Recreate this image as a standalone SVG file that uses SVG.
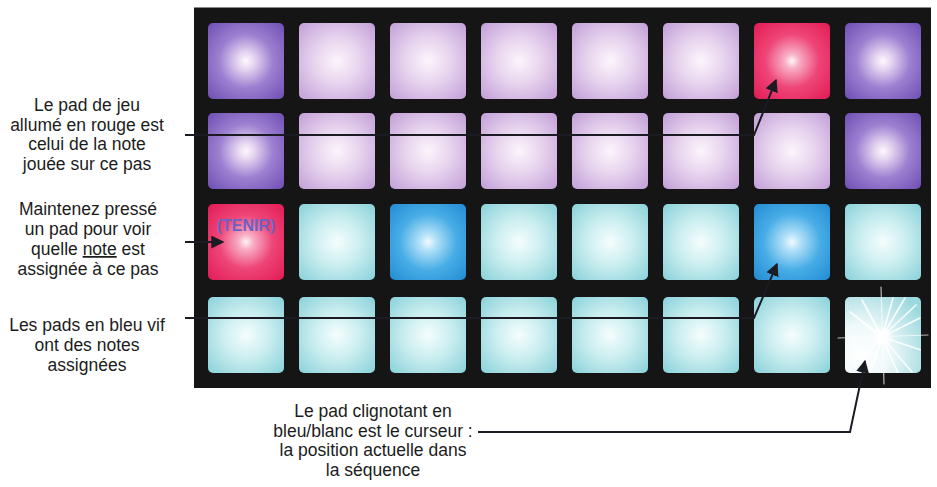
<svg xmlns="http://www.w3.org/2000/svg" width="937" height="487" viewBox="0 0 937 487">
<style>
.lbl{font-family:"Liberation Sans",Arial,Helvetica,sans-serif;font-size:17.5px;fill:#1c1c1c;text-anchor:middle}
.pad{stroke:none}
.conn{fill:none;stroke:#1b1b24;stroke-width:2}
.ray{stroke:#ffffff;stroke-linecap:round}
</style>
<defs>
<radialGradient id="gPurple" cx="50%" cy="50%" r="68%">
<stop offset="0" stop-color="#fdf8fd"/>
<stop offset="0.16" stop-color="#e6d6f1"/>
<stop offset="0.52" stop-color="#9d80d1"/>
<stop offset="1" stop-color="#7152b6"/>
</radialGradient>
<radialGradient id="gLilac" cx="50%" cy="50%" r="68%">
<stop offset="0" stop-color="#fcf5fb"/>
<stop offset="0.45" stop-color="#e7d3ee"/>
<stop offset="1" stop-color="#c4a2d9"/>
</radialGradient>
<radialGradient id="gRed" cx="50%" cy="50%" r="68%">
<stop offset="0" stop-color="#fff4f7"/>
<stop offset="0.15" stop-color="#f8acc4"/>
<stop offset="0.52" stop-color="#ee4577"/>
<stop offset="1" stop-color="#e31e57"/>
</radialGradient>
<radialGradient id="gCyan" cx="50%" cy="50%" r="68%">
<stop offset="0" stop-color="#f5fdfd"/>
<stop offset="0.45" stop-color="#cbeef0"/>
<stop offset="1" stop-color="#8dd3db"/>
</radialGradient>
<radialGradient id="gBlue" cx="50%" cy="50%" r="68%">
<stop offset="0" stop-color="#f3fbff"/>
<stop offset="0.16" stop-color="#b3e1f8"/>
<stop offset="0.55" stop-color="#48ade6"/>
<stop offset="1" stop-color="#258ed5"/>
</radialGradient>
<radialGradient id="gFlash" cx="20%" cy="75%" r="95%">
<stop offset="0" stop-color="#ffffff"/>
<stop offset="0.4" stop-color="#f0f9fa"/>
<stop offset="1" stop-color="#9cd9df"/>
</radialGradient>
<radialGradient id="gGlow" cx="50%" cy="50%" r="50%">
<stop offset="0" stop-color="#ffffff" stop-opacity="1"/>
<stop offset="0.4" stop-color="#ffffff" stop-opacity="0.8"/>
<stop offset="1" stop-color="#ffffff" stop-opacity="0"/>
</radialGradient>
<clipPath id="flashClip"><rect x="845" y="297" width="76" height="76" rx="5"/></clipPath>
<marker id="ah" viewBox="0 0 10 10" refX="9" refY="5" markerWidth="6.5" markerHeight="6.5" markerUnits="strokeWidth" orient="auto">
<path d="M0,0 L10,5 L0,10 Z" fill="#1b1b24"/>
</marker>
</defs>

<rect width="937" height="487" fill="#ffffff"/>

<g id="panel">
<rect x="194" y="7" width="737" height="381" fill="#151515"/>
<line x1="194" y1="7.5" x2="931" y2="7.5" stroke="#8a8a8a" stroke-width="1"/>
</g>

<g id="pads">
<g id="row1">
<rect class="pad" x="208" y="23" width="76" height="76" rx="5" fill="url(#gPurple)"/>
<rect class="pad" x="299" y="23" width="76" height="76" rx="5" fill="url(#gLilac)"/>
<rect class="pad" x="390" y="23" width="76" height="76" rx="5" fill="url(#gLilac)"/>
<rect class="pad" x="481" y="23" width="76" height="76" rx="5" fill="url(#gLilac)"/>
<rect class="pad" x="572" y="23" width="76" height="76" rx="5" fill="url(#gLilac)"/>
<rect class="pad" x="663" y="23" width="76" height="76" rx="5" fill="url(#gLilac)"/>
<rect class="pad" x="754" y="23" width="76" height="76" rx="5" fill="url(#gRed)"/>
<rect class="pad" x="845" y="23" width="76" height="76" rx="5" fill="url(#gPurple)"/>
</g>
<g id="row2">
<rect class="pad" x="208" y="113" width="76" height="76" rx="5" fill="url(#gPurple)"/>
<rect class="pad" x="299" y="113" width="76" height="76" rx="5" fill="url(#gLilac)"/>
<rect class="pad" x="390" y="113" width="76" height="76" rx="5" fill="url(#gLilac)"/>
<rect class="pad" x="481" y="113" width="76" height="76" rx="5" fill="url(#gLilac)"/>
<rect class="pad" x="572" y="113" width="76" height="76" rx="5" fill="url(#gLilac)"/>
<rect class="pad" x="663" y="113" width="76" height="76" rx="5" fill="url(#gLilac)"/>
<rect class="pad" x="754" y="113" width="76" height="76" rx="5" fill="url(#gLilac)"/>
<rect class="pad" x="845" y="113" width="76" height="76" rx="5" fill="url(#gPurple)"/>
</g>
<g id="row3">
<rect class="pad" x="208" y="204" width="76" height="76" rx="5" fill="url(#gRed)"/>
<rect class="pad" x="299" y="204" width="76" height="76" rx="5" fill="url(#gCyan)"/>
<rect class="pad" x="390" y="204" width="76" height="76" rx="5" fill="url(#gBlue)"/>
<rect class="pad" x="481" y="204" width="76" height="76" rx="5" fill="url(#gCyan)"/>
<rect class="pad" x="572" y="204" width="76" height="76" rx="5" fill="url(#gCyan)"/>
<rect class="pad" x="663" y="204" width="76" height="76" rx="5" fill="url(#gCyan)"/>
<rect class="pad" x="754" y="204" width="76" height="76" rx="5" fill="url(#gBlue)"/>
<rect class="pad" x="845" y="204" width="76" height="76" rx="5" fill="url(#gCyan)"/>
<text x="246" y="231" font-family="Liberation Sans,Arial,sans-serif" font-size="16" font-weight="bold" fill="#6a62c6" text-anchor="middle">(TENIR)</text>
</g>
<g id="row4">
<rect class="pad" x="208" y="297" width="76" height="76" rx="5" fill="url(#gCyan)"/>
<rect class="pad" x="299" y="297" width="76" height="76" rx="5" fill="url(#gCyan)"/>
<rect class="pad" x="390" y="297" width="76" height="76" rx="5" fill="url(#gCyan)"/>
<rect class="pad" x="481" y="297" width="76" height="76" rx="5" fill="url(#gCyan)"/>
<rect class="pad" x="572" y="297" width="76" height="76" rx="5" fill="url(#gCyan)"/>
<rect class="pad" x="663" y="297" width="76" height="76" rx="5" fill="url(#gCyan)"/>
<rect class="pad" x="754" y="297" width="76" height="76" rx="5" fill="url(#gCyan)"/>
<g id="cursor-pad">
<rect class="pad" x="845" y="297" width="76" height="76" rx="5" fill="url(#gFlash)"/>
<g clip-path="url(#flashClip)" opacity="0.9">
<g class="ray" stroke-width="1.6">
<line x1="882" y1="337" x2="920" y2="318"/>
<line x1="882" y1="337" x2="916" y2="305"/>
<line x1="882" y1="337" x2="905" y2="298"/>
<line x1="882" y1="337" x2="921" y2="350"/>
<line x1="882" y1="337" x2="912" y2="372"/>
<line x1="882" y1="337" x2="898" y2="373"/>
<line x1="882" y1="337" x2="862" y2="300"/>
<line x1="882" y1="337" x2="850" y2="312"/>
<line x1="882" y1="337" x2="855" y2="365"/>
<line x1="882" y1="337" x2="870" y2="373"/>
<line x1="882" y1="337" x2="893" y2="298"/>
</g>
</g>
<circle cx="882" cy="337" r="12" fill="url(#gGlow)"/>
<g class="ray" stroke-width="1.2" opacity="0.7">
<line x1="881" y1="287" x2="884" y2="384"/>
<line x1="838" y1="338" x2="928" y2="335"/>
</g>
</g>
</g>
</g>

<g id="connectors">
<polyline class="conn" points="185,135 754,135 776,80" marker-end="url(#ah)"/>
<line class="conn" x1="185" y1="242" x2="223" y2="242" marker-end="url(#ah)"/>
<polyline class="conn" points="185,318 754,318 777,264" marker-end="url(#ah)"/>
<polyline class="conn" points="478,432 850,432 865,361" marker-end="url(#ah)"/>
</g>

<g id="label-red">
<text class="lbl" x="87" y="111">Le pad de jeu</text>
<text class="lbl" x="87" y="131">allumé en rouge est</text>
<text class="lbl" x="87" y="150">celui de la note</text>
<text class="lbl" x="87" y="170">jouée sur ce pas</text>
</g>
<g id="label-hold">
<text class="lbl" x="88" y="215">Maintenez pressé</text>
<text class="lbl" x="88" y="235">un pad pour voir</text>
<text class="lbl" x="88" y="255">quelle <tspan text-decoration="underline">note</tspan> est</text>
<text class="lbl" x="88" y="275">assignée à ce pas</text>
</g>
<g id="label-blue">
<text class="lbl" x="87" y="331">Les pads en bleu vif</text>
<text class="lbl" x="87" y="351">ont des notes</text>
<text class="lbl" x="87" y="371">assignées</text>
</g>
<g id="label-cursor">
<text class="lbl" x="373" y="417">Le pad clignotant en</text>
<text class="lbl" x="373" y="437">bleu/blanc est le curseur :</text>
<text class="lbl" x="373" y="456">la position actuelle dans</text>
<text class="lbl" x="373" y="476">la séquence</text>
</g>
</svg>
